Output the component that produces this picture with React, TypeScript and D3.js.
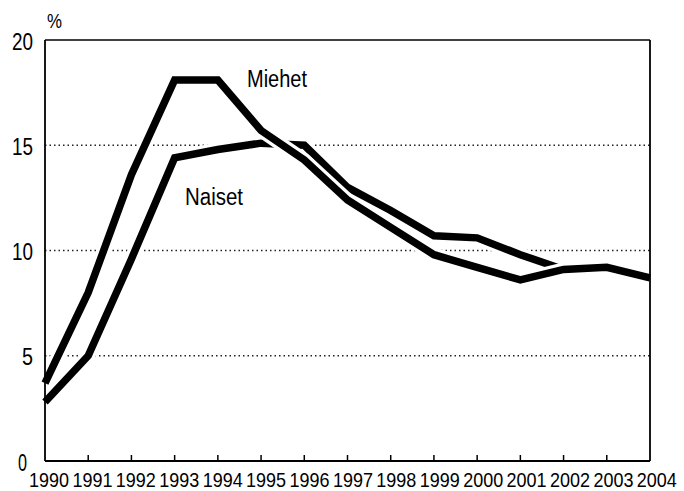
import React from "react";
import * as d3 from "d3";

const years = [1990, 1991, 1992, 1993, 1994, 1995, 1996, 1997, 1998, 1999, 2000, 2001, 2002, 2003, 2004];
const miehet = [3.7, 8.0, 13.6, 18.1, 18.1, 15.7, 14.3, 12.4, 11.1, 9.8, 9.2, 8.6, 9.1, 9.2, 8.7];
const naiset = [2.8, 5.0, 9.6, 14.4, 14.8, 15.1, 15.0, 13.0, 11.9, 10.7, 10.6, 9.8, 9.1, 9.15, 8.75];
const yTicks = [0, 5, 10, 15, 20];
const gridTicks = [5, 10, 15];

const W = 684;
const H = 491;
const left = 45;
const right = 650;
const top = 40;
const bottom = 461;
const FONT = "'Liberation Sans', Arial, sans-serif";

export default function App() {
  const x = d3.scaleLinear().domain([1990, 2004]).range([left, right]);
  const y = d3.scaleLinear().domain([0, 20]).range([bottom, top]);
  const line = d3
    .line<number>()
    .x((_, i) => x(years[i]))
    .y((d) => y(d));

  const casing = 14;
  const lw = 7.5;

  return (
    <svg
      width={W}
      height={H}
      viewBox={`0 0 ${W} ${H}`}
      style={{ position: "absolute", left: 0, top: 0, background: "#fff" }}
    >
      <rect x={0} y={0} width={W} height={H} fill="#fff" />
      {gridTicks.map((t) => (
        <line
          key={t}
          x1={left}
          x2={right}
          y1={y(t)}
          y2={y(t)}
          stroke="#222"
          strokeWidth={1.3}
          strokeDasharray="1.5,3"
        />
      ))}
      {/* frame */}
      <line x1={left} x2={right} y1={y(20)} y2={y(20)} stroke="#000" strokeWidth={1.6} />
      <line x1={left} x2={right} y1={y(0)} y2={y(0)} stroke="#000" strokeWidth={1.8} />
      {years.slice(1, -1).map((yr) => (
        <line key={yr} x1={x(yr)} x2={x(yr)} y1={y(0)} y2={y(0) - 6} stroke="#000" strokeWidth={1.5} />
      ))}
      {/* series */}
      <path d={line(naiset) || ""} fill="none" stroke="#fff" strokeWidth={casing} strokeLinejoin="miter" />
      <path d={line(naiset) || ""} fill="none" stroke="#000" strokeWidth={lw} strokeLinejoin="miter" />
      <path d={line(miehet) || ""} fill="none" stroke="#fff" strokeWidth={casing} strokeLinejoin="miter" />
      <path d={line(miehet) || ""} fill="none" stroke="#000" strokeWidth={lw} strokeLinejoin="miter" />
      {/* side frame edges over casing */}
      <line x1={left} x2={left} y1={y(20)} y2={y(0)} stroke="#000" strokeWidth={1.8} />
      <line x1={right} x2={right} y1={y(20)} y2={y(0)} stroke="#000" strokeWidth={1.8} />
      {/* y labels */}
      {yTicks.map((t) => (
        <text
          key={t}
          x={t === 0 ? 27 : 33}
          y={y(t)}
          dy="0.42em"
          textAnchor="end"
          fontFamily={FONT}
          fontSize={23}
          textLength={t >= 10 ? 21 : t === 0 ? 9 : 11}
          lengthAdjust="spacingAndGlyphs"
          fill="#000"
        >
          {t}
        </text>
      ))}
      <text
        x={47}
        y={28}
        fontFamily={FONT}
        fontSize={20}
        textLength={15}
        lengthAdjust="spacingAndGlyphs"
        fill="#000"
      >
        %
      </text>
      {/* x labels */}
      {years.map((yr, i) => (
        <text
          key={yr}
          x={x(yr) + 4 + i * 0.2}
          y={487}
          textAnchor="middle"
          fontFamily={FONT}
          fontSize={21}
          textLength={40}
          lengthAdjust="spacingAndGlyphs"
          fill="#000"
        >
          {yr}
        </text>
      ))}
      <text
        x={247}
        y={87}
        fontFamily={FONT}
        fontSize={23}
        textLength={60}
        lengthAdjust="spacingAndGlyphs"
        fill="#000"
      >
        Miehet
      </text>
      <text
        x={185}
        y={205}
        fontFamily={FONT}
        fontSize={23}
        textLength={58}
        lengthAdjust="spacingAndGlyphs"
        fill="#000"
      >
        Naiset
      </text>
    </svg>
  );
}
